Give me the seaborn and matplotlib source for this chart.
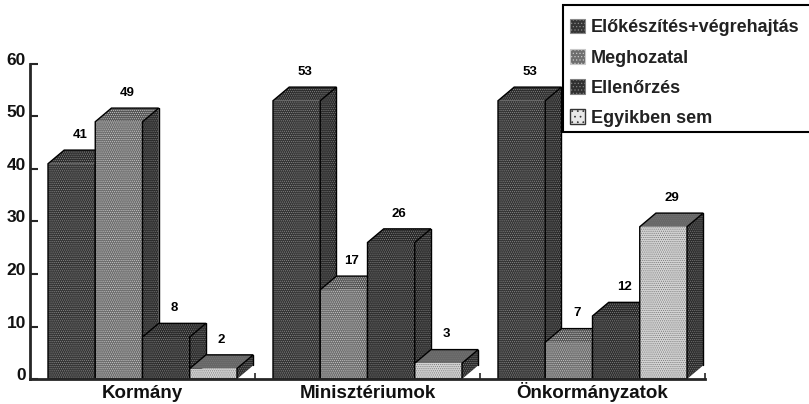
import pandas as pd
import seaborn as sns
import matplotlib.pyplot as plt
from matplotlib.patches import Patch, Polygon, Rectangle
from matplotlib.transforms import ScaledTranslation

groups = ['Kormány', 'Minisztériumok', 'Önkormányzatok']
series = ['Előkészítés+végrehajtás', 'Meghozatal', 'Ellenőrzés', 'Egyikben sem']
elokeszites = [41, 53, 53]
meghozatal = [49, 17, 7]
ellenorzes = [8, 26, 12]
egyikben = [2, 3, 29]
y_ticks = [0, 10, 20, 30, 40, 50, 60]

front_colors = ['#353535', '#6e6e6e', '#303030', '#d4d4d4']
dot_colors = ['#8a8a8a', '#c8c8c8', '#808080', '#777777']
top_colors = ['#2c2c2c', '#555555', '#282828', '#666666']
side_color = '#2a2a2a'

depth_x = 0.072
depth_y = 2.6

df = pd.DataFrame({
    'group': groups * 4,
    'series': [s for s in series for _ in groups],
    'value': elokeszites + meghozatal + ellenorzes + egyikben,
})

sns.set_theme(style='ticks')
plt.rcParams['font.family'] = ['Liberation Sans', 'DejaVu Sans']
plt.rcParams['hatch.linewidth'] = 0.5

fig = plt.figure(figsize=(8.09, 4.04), dpi=100)
ax = fig.add_axes([30 / 809, 25 / 404, 675 / 809, 315 / 404])

sns.barplot(data=df, x='group', y='value', hue='series', hue_order=series,
            palette=front_colors, width=0.84, gap=0, legend=False, ax=ax)

ax.set_xlim(-0.5, 2.5)
ax.set_ylim(0, 60)

# fake 3d: side and top faces come from the bars, drawn left to right
bars = []
for k, cont in enumerate(ax.containers):
    for b in cont:
        bars.append((b.get_x(), k, b))
bars.sort(key=lambda t: t[0])

for i, (x0, k, b) in enumerate(bars):
    w = b.get_width()
    h = b.get_height()
    z = 3 + i * 0.1
    side = Polygon([(x0 + w, 0), (x0 + w + depth_x, depth_y), (x0 + w + depth_x, h + depth_y), (x0 + w, h)],
                   facecolor=side_color, edgecolor='#808080', hatch='........', linewidth=0, zorder=z)
    top = Polygon([(x0, h), (x0 + depth_x, h + depth_y), (x0 + w + depth_x, h + depth_y), (x0 + w, h)],
                  facecolor=top_colors[k], edgecolor=dot_colors[k], hatch='........', linewidth=0, zorder=z)
    ax.add_patch(side)
    ax.add_patch(top)
    b.set_edgecolor(dot_colors[k])
    b.set_hatch('........')
    b.set_linewidth(0)
    b.set_zorder(z + 0.01)
    ax.add_patch(Polygon([(x0 + w, h), (x0 + w + depth_x, h + depth_y), (x0 + depth_x, h + depth_y), (x0, h),
                          (x0, 0), (x0 + w, 0)],
                         fill=False, edgecolor='black', linewidth=1, zorder=z + 0.02))
    ax.plot([x0 + w + depth_x, x0 + w + depth_x], [h + depth_y, depth_y], color='black', lw=1, zorder=z + 0.02)
    ax.text(x0 + w / 2 + 0.036, h + depth_y + 2.9, str(int(h)), ha='center', va='center',
            fontsize=9.5, fontweight='bold', color='black', zorder=10)

sns.despine(ax=ax)
ax.spines['left'].set_linewidth(2)
ax.spines['bottom'].set_linewidth(2)
ax.spines['left'].set_zorder(12)
ax.spines['bottom'].set_zorder(12)

ax.set_xlabel('')
ax.set_ylabel('')
ax.set_yticks(y_ticks)
ax.tick_params(axis='y', direction='in', length=6, width=1.5, labelsize=12.5, pad=3)
ax.tick_params(axis='x', length=0, labelsize=13.5, pad=13.5)
ax.set_xticks([0.5, 1.5, 2.5], minor=True)
ax.tick_params(axis='x', which='minor', direction='in', length=4, width=1.2)
for t in ax.get_xticklabels():
    t.set_fontweight('bold')
    t.set_color('#111111')
    t.set_verticalalignment('baseline')
for t in ax.get_yticklabels():
    t.set_fontweight('bold')
    t.set_color('#111111')
    t.set_verticalalignment('center')
    t.set_transform(t.get_transform() + ScaledTranslation(0, 3.5 / 100, fig.dpi_scale_trans))

# legend box is a separate rectangle, the rows sit lower than the top edge
fig.add_artist(Rectangle((563 / 809, 1 - 132 / 404), 260 / 809, 127 / 404, transform=fig.transFigure,
                         facecolor='white', edgecolor='black', linewidth=1.5, zorder=4))

handles = [Patch(facecolor=front_colors[i], edgecolor=dot_colors[i], hatch='.....', linewidth=0.8)
           for i in range(4)]
handles[3] = Patch(facecolor='#e8e8e8', edgecolor='#333333', hatch='...', linewidth=1)
leg = fig.legend(handles, series, loc='upper left',
                 bbox_to_anchor=(563 / 809, 1 - 12 / 404, 246 / 809, 0), mode='expand',
                 borderaxespad=0, borderpad=0.39, labelspacing=0.7, handlelength=0.85, handleheight=0.85,
                 handletextpad=0.3, frameon=False,
                 prop={'weight': 'bold', 'size': 13})
leg.set_zorder(5)
for t in leg.get_texts():
    t.set_color('#222222')

fig.savefig('out.png', dpi=100)
